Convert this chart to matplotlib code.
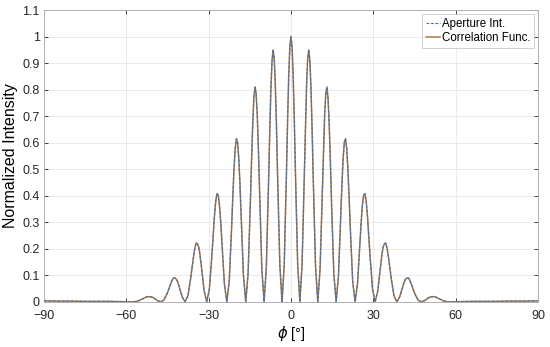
import matplotlib
matplotlib.use("Agg")
import matplotlib.pyplot as plt

# angle samples [deg] (zeros, peaks and flanks of each fringe)
phi_deg = [
    -90, -85, -80, -75, -70, -66, -62,
    -58.27, -56.75, -55.30, -54.60, -53.90, -53.22, -52.54, -51.89, -51.23, -50.59, -49.95, -48.70,
    -47.49, -46.30, -45.13, -44.56, -43.99, -43.43, -42.87, -42.33, -41.78, -41.24, -40.70, -39.63,
    -38.59, -37.55, -36.54, -36.04, -35.53, -35.04, -34.54, -34.05, -33.56, -33.08, -32.59, -31.63,
    -30.68, -29.74, -28.81, -28.35, -27.89, -27.43, -26.97, -26.52, -26.07, -25.62, -25.17, -24.27,
    -23.38, -22.50, -21.63, -21.20, -20.76, -20.33, -19.89, -19.46, -19.03, -18.60, -18.17, -17.32,
    -16.47, -15.62, -14.78, -14.36, -13.94, -13.53, -13.11, -12.70, -12.28, -11.87, -11.45, -10.62,
    -9.79, -8.97, -8.15, -7.74, -7.33, -6.92, -6.51, -6.10, -5.69, -5.28, -4.88, -4.06,
    -3.25, -2.44, -1.62, -1.22, -0.81, -0.41,
    0,
    0.41, 0.81, 1.22, 1.62, 2.44, 3.25,
    4.06, 4.88, 5.28, 5.69, 6.10, 6.51, 6.92, 7.33, 7.74, 8.15, 8.97, 9.79,
    10.62, 11.45, 11.87, 12.28, 12.70, 13.11, 13.53, 13.94, 14.36, 14.78, 15.62, 16.47,
    17.32, 18.17, 18.60, 19.03, 19.46, 19.89, 20.33, 20.76, 21.20, 21.63, 22.50, 23.38,
    24.27, 25.17, 25.62, 26.07, 26.52, 26.97, 27.43, 27.89, 28.35, 28.81, 29.74, 30.68,
    31.63, 32.59, 33.08, 33.56, 34.05, 34.54, 35.04, 35.53, 36.04, 36.54, 37.55, 38.59,
    39.63, 40.70, 41.24, 41.78, 42.33, 42.87, 43.43, 43.99, 44.56, 45.13, 46.30, 47.49,
    48.70, 49.95, 50.59, 51.23, 51.89, 52.54, 53.22, 53.90, 54.60, 55.30, 56.75, 58.27,
    62, 66, 70, 75, 80, 85, 90,
]

aperture_int = [
    0.004, 0.003, 0.003, 0.002, 0.002, 0.002, 0.001,
    0, 0.001, 0.005, 0.009, 0.012, 0.016, 0.019, 0.020, 0.019, 0.018, 0.014, 0.005,
    0, 0.007, 0.031, 0.047, 0.063, 0.079, 0.090, 0.090, 0.086, 0.074, 0.056, 0.019,
    0, 0.023, 0.089, 0.130, 0.169, 0.202, 0.222, 0.219, 0.205, 0.172, 0.129, 0.041,
    0, 0.048, 0.175, 0.252, 0.323, 0.378, 0.408, 0.403, 0.367, 0.305, 0.226, 0.070,
    0, 0.077, 0.278, 0.394, 0.499, 0.577, 0.615, 0.602, 0.543, 0.448, 0.329, 0.100,
    0, 0.107, 0.378, 0.532, 0.668, 0.766, 0.81, 0.787, 0.705, 0.577, 0.421, 0.126,
    0, 0.131, 0.456, 0.637, 0.795, 0.905, 0.95, 0.917, 0.816, 0.663, 0.481, 0.142,
    0, 0.144, 0.495, 0.685, 0.852, 0.961,
    1.0,
    0.961, 0.852, 0.685, 0.495, 0.144, 0,
    0.142, 0.481, 0.663, 0.816, 0.917, 0.95, 0.905, 0.795, 0.637, 0.456, 0.131, 0,
    0.126, 0.421, 0.577, 0.705, 0.787, 0.81, 0.766, 0.668, 0.532, 0.378, 0.107, 0,
    0.100, 0.329, 0.448, 0.543, 0.602, 0.615, 0.577, 0.499, 0.394, 0.278, 0.077, 0,
    0.070, 0.226, 0.305, 0.367, 0.403, 0.408, 0.378, 0.323, 0.252, 0.175, 0.048, 0,
    0.041, 0.129, 0.172, 0.205, 0.219, 0.222, 0.202, 0.169, 0.130, 0.089, 0.023, 0,
    0.019, 0.056, 0.074, 0.086, 0.090, 0.090, 0.079, 0.063, 0.047, 0.031, 0.007, 0,
    0.005, 0.014, 0.018, 0.019, 0.020, 0.019, 0.016, 0.012, 0.009, 0.005, 0.001, 0,
    0.001, 0.002, 0.002, 0.002, 0.003, 0.003, 0.004,
]

# the correlation curve lies on top of the aperture curve everywhere
correlation_func = list(aperture_int)

x_ticks = [-90, -60, -30, 0, 30, 60, 90]
y_ticks = [0, 0.1, 0.2, 0.3, 0.4, 0.5, 0.6, 0.7, 0.8, 0.9, 1.0, 1.1]
y_labels = ["0", "0.1", "0.2", "0.3", "0.4", "0.5", "0.6", "0.7", "0.8", "0.9", "1", "1.1"]

plt.rcParams["font.family"] = ["Liberation Sans", "DejaVu Sans"]

fig = plt.figure(figsize=(5.5, 3.47), dpi=100)
ax = fig.add_axes([0.080, 0.130, 0.898, 0.841])

l2, = ax.plot(phi_deg, correlation_func, color="#a8784a", lw=1.1, zorder=2,
              label="Correlation Func.")
l1, = ax.plot(phi_deg, aperture_int, color="#4a70a0", lw=0.8, ls=(0, (2.5, 1.5)),
              zorder=3, label="Aperture Int.")

ax.set_xlim(-90, 90)
ax.set_ylim(0, 1.1)
ax.set_xticks(x_ticks)
ax.set_xticklabels([f"{t}".replace("-", "\u2212") for t in x_ticks])
ax.set_yticks(y_ticks)
ax.set_yticklabels(y_labels)
ax.tick_params(direction="in", length=3, width=0.6, labelsize=9, colors="#262626",
               top=True, right=True)
ax.tick_params(axis="x", pad=6)
ax.tick_params(axis="y", pad=3)
ax.grid(True, color="#e6e6e6", lw=0.6)
ax.set_axisbelow(True)
for s in ax.spines.values():
    s.set_color("#b0b0b0")
    s.set_linewidth(0.7)

ax.set_xlabel(r"$\phi$ [°]", fontsize=10.5, labelpad=1)
ax.set_ylabel("Normalized Intensity", fontsize=11.5, labelpad=3)

leg = ax.legend(handles=[l1, l2], loc="upper right", fontsize=8.3, frameon=True,
                fancybox=False, borderaxespad=0.3, handlelength=1.2,
                handletextpad=0.15, borderpad=0.35, labelspacing=0.25)
leg.get_frame().set_edgecolor("#bdbdbd")
leg.get_frame().set_linewidth(0.6)

fig.savefig("out.png", dpi=100)
